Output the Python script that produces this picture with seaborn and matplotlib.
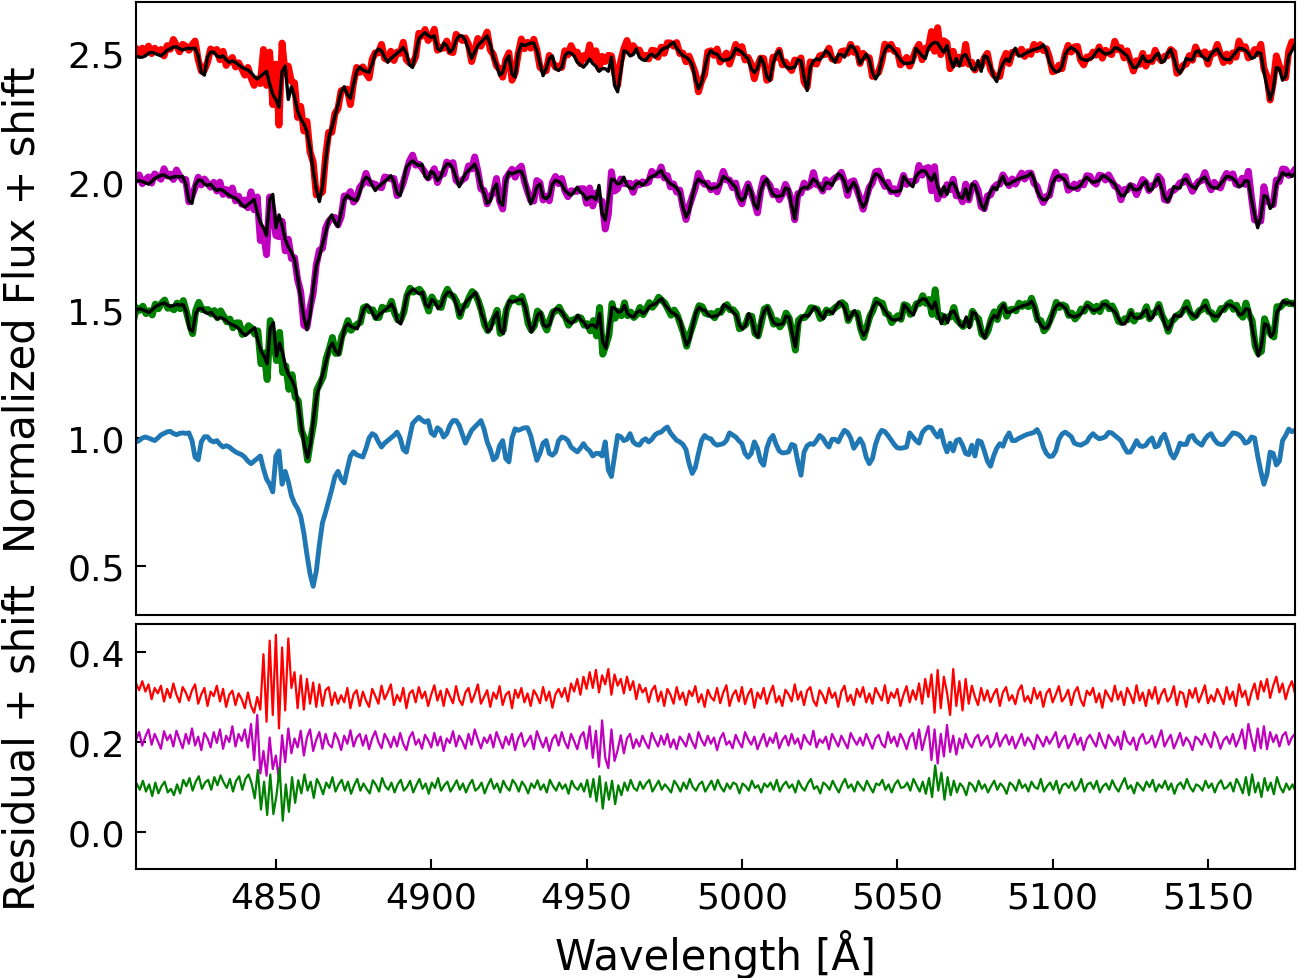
import numpy as np
import matplotlib
matplotlib.use("Agg")
import matplotlib.pyplot as plt
import seaborn as sns

sns.set_style("ticks")
plt.rcParams["font.family"] = ["DejaVu Sans"]
plt.rcParams["text.color"] = "black"
plt.rcParams["axes.labelcolor"] = "black"
plt.rcParams["xtick.color"] = "black"
plt.rcParams["ytick.color"] = "black"

# -----------------------------
# Data (1 A sampling starting at 4803 A)
# -----------------------------
wl_start = 4803

# template spectrum (blue), normalized flux
base_flux = [
    0.990, 0.985,
    0.985, 0.990, 1.000, 1.004, 1.000,
    0.995, 0.990, 1.000, 1.012, 1.018, 1.024, 1.026, 1.018, 1.013, 1.018,
    1.020, 1.018, 1.020, 0.990, 0.925, 0.915, 0.985, 1.005, 1.005, 0.990,
    0.985, 0.990, 0.975, 0.965, 0.970, 0.965, 0.955, 0.946, 0.940, 0.935,
    0.925, 0.910, 0.900, 0.910, 0.920, 0.930, 0.880, 0.840, 0.820, 0.790,
    0.930, 0.950, 0.820, 0.870, 0.830, 0.775, 0.745, 0.725, 0.695, 0.630,
    0.545, 0.470, 0.422, 0.480, 0.584, 0.670, 0.710, 0.755, 0.800, 0.850,
    0.870, 0.840, 0.825, 0.880, 0.930, 0.946, 0.935, 0.930, 0.926, 0.959,
    1.000, 1.017, 1.010, 0.985, 0.965, 0.980, 0.990, 1.000, 1.010, 1.023,
    1.000, 0.955, 0.945, 1.000, 1.056, 1.070, 1.081, 1.070, 1.062, 1.068,
    1.020, 1.010, 1.040, 1.030, 1.004, 1.017, 1.050, 1.068, 1.068, 1.050,
    1.015, 0.980, 1.005, 1.030, 1.043, 1.055, 1.068, 1.035, 0.985, 0.955,
    0.915, 0.925, 0.970, 0.990, 0.920, 0.907, 1.000, 1.036, 1.030, 1.035,
    1.040, 1.040, 1.010, 0.960, 0.913, 0.940, 0.980, 0.990, 0.940, 0.933,
    0.945, 0.990, 1.004, 1.000, 0.990, 0.965, 0.955, 0.946, 0.960, 0.978,
    0.960, 0.950, 0.930, 0.940, 0.940, 0.930, 0.985, 0.875, 0.850, 0.930,
    1.010, 1.005, 0.990, 0.995, 1.017, 0.985, 0.975, 0.972, 0.990, 0.997,
    0.985, 0.995, 1.012, 1.020, 1.023, 1.035, 1.043, 1.020, 1.005, 0.991,
    0.985, 0.975, 0.955, 0.900, 0.862, 0.885, 0.940, 0.990, 1.010, 1.000,
    0.997, 0.980, 0.972, 0.975, 0.978, 0.990, 1.020, 1.012, 1.004, 0.990,
    0.978, 0.940, 0.925, 0.940, 0.985, 0.960, 0.910, 0.894, 0.960, 0.995,
    1.010, 0.975, 0.950, 0.942, 0.943, 0.946, 0.975, 0.970, 0.907, 0.855,
    0.945, 0.970, 0.978, 0.975, 0.990, 1.010, 1.000, 0.980, 0.965, 0.995,
    0.995, 0.985, 1.010, 1.030, 1.022, 1.000, 0.960, 0.978, 0.997, 0.975,
    0.925, 0.900, 0.920, 0.975, 1.010, 1.030, 1.025, 1.010, 0.993, 0.975,
    0.962, 0.960, 0.962, 0.965, 1.020, 1.005, 0.990, 0.980, 1.020, 1.035,
    1.043, 1.040, 1.020, 1.004, 1.030, 0.980, 0.946, 0.980, 0.950, 0.990,
    0.995, 0.972, 0.940, 0.935, 0.972, 0.930, 0.990, 0.985, 0.950, 0.910,
    0.890, 0.930, 0.960, 0.978, 0.968, 1.000, 1.020, 0.990, 0.990, 0.998,
    1.004, 1.010, 1.015, 1.018, 1.022, 1.033, 1.010, 0.965, 0.940, 0.928,
    0.930, 0.950, 0.995, 1.015, 1.023, 1.015, 1.005, 0.980, 0.975, 0.972,
    0.978, 0.985, 1.005, 1.017, 1.005, 0.997, 1.000, 1.005, 1.022, 1.020,
    1.010, 1.000, 0.990, 0.965, 0.945, 0.945, 0.965, 0.990, 0.970, 0.967,
    0.972, 0.990, 1.000, 0.965, 0.970, 1.000, 1.015, 0.980, 0.940, 0.922,
    0.945, 0.980, 0.975, 0.975, 1.005, 1.010, 0.990, 0.980, 0.972, 0.995,
    1.010, 1.017, 0.995, 0.980, 0.975, 0.975, 0.990, 1.005, 1.020, 1.018,
    1.012, 1.000, 0.980, 0.985, 1.004, 1.000, 0.930, 0.870, 0.820, 0.860,
    0.945, 0.940, 0.895, 0.910, 0.990, 1.010, 1.035, 1.025, 1.030,
    1.020, 1.030,
]

# residuals (observed - model) in units of 0.001, same grid as base_flux
resid_red = [
    30, 15,
    35, 12, 28, -5, 20,
    8, 25, -10, 18, -2, 30, 5, -12, 22, 10,
    -8, 15, 28, -15, 6, 20, -20, 12, 2, 25,
    -10, 18, -22, 5, 14, -18, 8, -5, -25, 10,
    -20, -35, 0, -28, 95, -55, 125, -40, 138, -70,
    110, -30, 130, 20, 55, -25, 48, -28, 40, -15,
    32, -22, 28, -20, 15, 22, -18, 10, -15, 4,
    -12, 20, -25, 6, 15, -20, 12, -8, -22, 18,
    2, -15, 25, -5, 10, 28, -18, 5, -10, 20,
    -25, 8, 15, -12, 22, -3, 12, -20, 5, 26,
    -8, 14, -20, 18, 2, -14, 24, -6, -18, 10,
    20, -12, 6, 28, -15, 0, 15, -22, 10, -4,
    24, -18, 5, 12, -25, 16, -2, 20, -12, 8,
    -20, 15, 3, -14, 22, -8, 12, -24, 6, 18,
    0, 20, -10, 30, 12, 40, 5, 45, 18, 55,
    20, 60, 10, 48, 28, 62, 5, 50, 25, 40,
    8, 45, 15, 35, -5, 28, 10, 20, -12, 15,
    25, -10, 12, -20, 18, 5, -15, 22, -6, 10,
    -18, 14, 2, 24, -12, 6, -22, 16, 0, -8,
    20, -14, 10, 26, -20, 4, 15, -10, 22, -16,
    6, 18, -24, 10, -4, 20, -15, 8, 25, -12,
    2, -20, 16, 6, -10, 28, -6, 12, -18, 14,
    22, -8, -20, 15, 4, -14, 20, -2, 10, -22,
    12, 25, -10, 5, -18, 18, 0, 22, -12, 8,
    -15, 20, 6, -8, 26, -14, 10, -2, 18, -20,
    5, 24, -12, 15, -6, 30, -15, 40, 0, 50,
    -35, 60, -25, 45, 10, -40, 62, -20, 35, -30,
    40, -15, 25, 0, -18, 20, -8, 15, -12, 6,
    18, -20, 10, 22, -8, 4, -16, 14, 26, -10,
    2, -14, 20, -4, 12, -22, 8, 18, -12, 5,
    24, -10, 0, 16, -18, 10, 22, -6, -20, 14,
    4, 20, -12, 8, -24, 15, 2, -10, 25, -6,
    12, -18, 20, 5, -14, 26, -8, 10, -20, 16,
    -4, 22, -15, 6, 18, -10, 0, 24, -18, 12,
    8, -22, 16, -2, 20, -12, 6, 26, -14, 4,
    -10, 18, 2, -16, 22, -6, 12, -20, 28, 0,
    14, -18, 10, 30, -5, 35, 12, 40, -2, 25,
    45, 10, 30, -5, 20, 35, 8, 28, 15,
    32, 10,
]

resid_magenta = [
    10, -6,
    -12, 15, 5, 22, -8,
    12, 28, -6, 18, 2, -15, 24, 4, 16, -10,
    25, 5, -14, 18, -4, 30, -8, 12, -18, 20,
    8, -12, 22, -2, 28, -15, 14, 0, 35, -10,
    18, 2, 28, -12, 40, -40, 60, -70, -20, -75,
    10, -60, -30, -85, 15, -45, 30, -25, 8, -12,
    25, -30, 10, 28, -20, 5, 22, -15, 18, -5,
    -12, 20, 6, -18, 14, -4, 26, -10, 10, 18,
    -8, 15, -16, 8, 24, 0, -14, 18, 5, -12,
    12, -10, 20, -4, -18, 10, 22, -6, 6, -15,
    16, 4, -12, 20, -8, 12, -20, 8, -2, 24,
    -10, 14, 2, -15, 18, -6, 28, 6, -14, 10,
    -2, 16, -12, 22, 4, -14, 12, -6, 18, -18,
    8, 20, -10, 2, 14, -16, 24, 5, -12, 10,
    -20, 6, 16, -8, 22, 0, -14, 18, 2, -16,
    12, 22, -15, 35, -35, 25, -55, 48, -35, -58,
    28, -42, -18, 15, -25, 8, 18, -14, 6, -10,
    14, -2, -14, 20, 4, -10, 14, -6, 18, -12,
    6, -16, 12, 2, -10, 18, 0, -14, 22, 4,
    -8, 14, -4, 10, -18, 8, 20, -6, 2, -14,
    16, 0, -12, 22, 6, -6, 12, -16, 2, 18,
    -10, 10, -2, 20, -14, 4, 14, -8, 18, -4,
    8, -15, 16, 2, -6, 25, -12, 6, -2, 12,
    -16, 18, 4, -10, 14, 0, -14, 20, 6, -6,
    10, -8, 18, 2, -15, 8, 16, -4, -12, 22,
    -2, 12, -10, 18, 4, -16, 10, 20, -15, 28,
    -18, 10, 35, -40, 28, -48, 18, -32, 38, -22,
    14, -28, 8, -14, 18, -2, -12, 8, 16, -8,
    4, 14, -12, -2, 20, -10, 6, 16, -6, 12,
    -14, 2, 18, -8, 10, 0, -16, 16, 4, -10,
    12, -4, 8, 22, -12, 4, 14, -14, 0, 18,
    -6, 10, -18, 6, 16, 2, -10, 20, 0, -14,
    16, 4, -8, 12, -16, 24, 2, -6, 10, -18,
    8, 18, -4, 0, 14, -12, 6, 26, -10, 4,
    16, -14, 2, 20, -8, 10, 0, -18, 12, 6,
    -6, 18, 2, -12, 22, 8, -15, 4, 12, -4,
    18, -10, 6, 28, -15, 40, 8, -20, 30, -14,
    35, -16, 22, 0, 16, -10, 14, 22, -6,
    10, 18,
]

resid_green = [
    -8, -20,
    -15, -30, 8, -6, 14,
    -10, 6, -20, 10, -14, 2, 12, -12, -4, -18,
    6, -14, 16, 2, 20, -8, 12, 24, -4, 10,
    16, -6, 22, 4, 26, 10, -2, 18, -10, 14,
    24, -6, 18, 28, 8, -25, 38, -50, 12, -62,
    28, -60, -18, 42, -75, 6, -55, 22, -35, 15,
    -14, 28, -8, 12, -24, 18, 4, -16, 10, -2,
    22, -10, 6, 16, -8, 12, -15, 4, 18, -8,
    8, -4, -14, 15, 5, -10, 20, 2, -6, 10,
    -12, 6, 16, -8, 0, 14, -12, 4, 18, -4,
    8, -15, 10, -2, 20, -8, 4, 12, -10, 2,
    15, -6, 8, -12, 5, 16, -8, -2, 10, -14,
    4, 18, -4, 8, -12, 14, 0, -8, 16, 6,
    -10, 12, 2, -14, 8, -2, 15, -6, 6, -12,
    16, 2, -8, 10, -4, 6, -15, 14, 0, -6,
    8, -10, 16, -22, 18, -32, 24, -48, 10, -28,
    14, -38, 4, -18, 10, -8, 16, -2, -8, 12,
    -4, 8, 16, -10, 2, 14, -6, 6, -2, -12,
    14, 4, -10, 10, -4, 18, 0, -8, 6, 12,
    -10, 2, 14, -6, 16, 0, -10, 8, -4, 10,
    6, -14, 8, 2, -8, 14, -2, 4, -12, 8,
    0, 10, -6, 16, -10, 4, 12, -2, 6, -12,
    14, 0, -8, 8, 18, -4, 2, -14, 10, 4,
    -6, 14, 0, -12, 6, 18, -2, 6, -10, 12,
    2, -8, 14, 0, -12, 8, 4, 16, -6, 6,
    -12, 6, 15, -2, 0, 10, -8, 18, 4, -10,
    12, -15, 20, -22, 48, -8, 32, -28, 22, -18,
    14, -12, 8, 0, -18, 10, 4, -10, 14, -4,
    6, -12, 2, 14, -6, 8, 0, -15, 10, 4,
    -8, 16, -2, 6, -10, 12, 0, -4, 18, -10,
    2, 10, -6, 14, -14, 4, 8, -2, 12, -8,
    0, 18, -10, 6, 10, -4, 14, -12, 2, 8,
    -6, 15, 0, -10, 6, 20, -4, 4, -14, 10,
    2, -8, 12, 0, 16, -10, 6, -2, 14, -6,
    8, -15, 4, 10, -4, 18, 0, -10, 6, 2,
    -8, 14, -2, 8, -12, 6, 15, -4, 0, 10,
    -10, 18, 4, -14, 22, -18, 28, -12, 10, -22,
    20, -8, 10, -16, 22, 0, -12, 8, -6,
    6, -10,
]

# per observation: colour, wavelength shift [A], flux shift, residual shift
obs_colors = ["r", "m", "g"]
obs_dlambda = [2.0, -2.0, -1.8]
obs_flux_shift = [1.5, 1.0, 0.5]
obs_resid_shift = [0.3, 0.2, 0.1]
obs_resid = [resid_red, resid_magenta, resid_green]

# -----------------------------
# Plot
# -----------------------------
n = min(len(base_flux), *[len(r) for r in obs_resid])
wl = wl_start + np.arange(n)
flux = np.array(base_flux[:n])

fig = plt.figure(figsize=(13.07, 9.79), dpi=100)
ax1 = fig.add_axes([0.1041, 0.3708, 0.8867, 0.6261])
ax2 = fig.add_axes([0.1041, 0.1113, 0.8867, 0.2503], sharex=ax1)

sns.lineplot(x=wl, y=flux, ax=ax1, color="#1f77b4", lw=3.5,
             estimator=None, sort=False)

for color, dl, fs, rs, res in zip(obs_colors, obs_dlambda, obs_flux_shift,
                                  obs_resid_shift, obs_resid):
    res = np.array(res[:n]) / 1000.0
    x = wl + dl
    model = flux + fs
    sns.lineplot(x=x, y=model + res, ax=ax1, color=color, lw=5,
                 estimator=None, sort=False)
    sns.lineplot(x=x, y=model, ax=ax1, color="k", lw=2.4,
                 estimator=None, sort=False)
    sns.lineplot(x=x, y=res + rs, ax=ax2, color=color, lw=1.6,
                 estimator=None, sort=False)

ax1.set_xlim(4805, 5178)
ax1.set_ylim(0.31, 2.70)
ax2.set_ylim(-0.082, 0.462)
ax1.set_yticks([0.5, 1.0, 1.5, 2.0, 2.5])
ax2.set_yticks([0.0, 0.2, 0.4])
ax2.set_xticks(np.arange(4850, 5151, 50))

for ax in (ax1, ax2):
    ax.tick_params(direction="in", length=7, width=1.5, labelsize=26, pad=8)
    for sp in ax.spines.values():
        sp.set_linewidth(1.5)
        sp.set_color("k")
ax1.tick_params(axis="x", bottom=False, labelbottom=False)

ax1.set_ylabel("Normalized Flux + shift", fontsize=30)
ax2.set_ylabel("Residual + shift", fontsize=30)
ax2.set_xlabel("Wavelength [Å]", fontsize=30, labelpad=11)
ax1.yaxis.set_label_coords(-0.080, 0.5)
ax2.yaxis.set_label_coords(-0.080, 0.5)

plt.savefig("out.png", dpi=100)
